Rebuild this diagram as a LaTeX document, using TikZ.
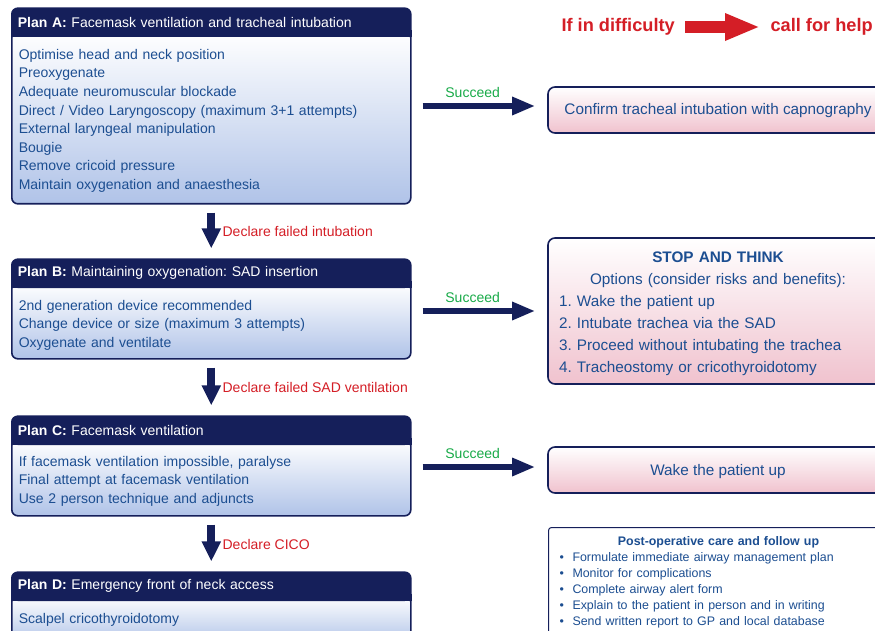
\documentclass[tikz,border=0pt]{standalone}
\usepackage{fontspec}
\setmainfont{Liberation Sans}
\usetikzlibrary{arrows.meta,positioning,calc}
\definecolor{navy}{RGB}{21,31,90}
\definecolor{bodyblue}{RGB}{28,78,145}
\definecolor{planblue}{RGB}{176,195,232}
\definecolor{rosy}{RGB}{240,194,206}
\definecolor{helpred}{RGB}{212,30,38}
\definecolor{okgreen}{RGB}{24,170,72}
\frenchspacing

\begin{document}
\begin{tikzpicture}[x=1pt,y=-1pt]

\tikzset{planbody/.style={anchor=north west,draw=navy,line width=1.6pt,rounded corners=6pt,top color=white,bottom color=planblue,text=bodyblue,text width=385pt,inner xsep=7pt,align=left,font=\fontsize{14}{18.6}\selectfont},
planhead/.style={anchor=south west,fill=navy,draw=navy,line width=1.6pt,rounded corners=6pt,text=white,text width=387pt,inner xsep=6pt,minimum height=28pt,align=left,font=\fontsize{14}{16}\selectfont},
resultbox/.style={draw=navy,line width=1.6pt,rounded corners=7pt,top color=white,bottom color=rosy,text=bodyblue,minimum width=340pt,font=\fontsize{15.3}{22}\selectfont},
postbox/.style={anchor=north west,draw=navy,line width=1pt,rounded corners=3pt,fill=white,text=bodyblue,text width=318pt,inner xsep=11pt,inner ysep=9pt,align=left,font=\fontsize{12.4}{16}\selectfont},
failarrow/.style={navy,line width=8pt,-{Triangle[length=20pt,width=18pt]},shorten <=8pt,shorten >=10pt},
failtext/.style={text=helpred,font=\fontsize{14}{16}\selectfont},
okarrow/.style={navy,line width=6pt,-{Triangle[length=23pt,width=17pt]},shorten <=11pt,shorten >=12pt},
oktext/.style={text=okgreen,font=\fontsize{14}{16}\selectfont},
helptext/.style={text=helpred,font=\fontsize{18.2}{20}\selectfont\bfseries},
helparrow/.style={helpred,line width=12pt,-{Triangle[length=35pt,width=25pt]},shorten <=7pt,shorten >=7pt}}

\useasboundingbox (0,0) rectangle (875,631);

% If in difficulty
\node[helptext,anchor=west] (diff) at (558,27) {If in difficulty};
\node[helptext,anchor=west] (help) at (767,27) {call for help};
\draw[helparrow] (diff) -- (help);

% Plan boxes
\node[planbody,minimum height=172pt] (bodyA) at (11,31) {\rule{0pt}{16pt}Optimise head and neck position\\ Preoxygenate\\ Adequate neuromuscular blockade\\ Direct / Video Laryngoscopy (maximum 3+1 attempts)\\ External laryngeal manipulation\\ Bougie\\ Remove cricoid pressure\\ Maintain oxygenation and anaesthesia};
\node[planhead] (headA) at ([yshift=-6pt]bodyA.north west) {\textbf{Plan A:} Facemask ventilation and tracheal intubation};

\node[planbody,minimum height=76pt] (bodyB) at (11,282) {\rule{0pt}{19pt}2nd generation device recommended\\ Change device or size (maximum 3 attempts)\\ Oxygenate and ventilate};
\node[planhead] (headB) at ([yshift=-6pt]bodyB.north west) {\textbf{Plan B:} Maintaining oxygenation: SAD insertion};

\node[planbody,minimum height=76pt] (bodyC) at (11,439) {\rule{0pt}{17pt}If facemask ventilation impossible, paralyse\\ Final attempt at facemask ventilation\\ Use 2 person technique and adjuncts};
\node[planhead] (headC) at ([yshift=-6pt]bodyC.north west) {\textbf{Plan C:} Facemask ventilation};

\node[planbody,minimum height=48pt] (bodyD) at (11,595) {Scalpel cricothyroidotomy};
\node[planhead] (headD) at ([yshift=-6pt]bodyD.north west) {\textbf{Plan D:} Emergency front of neck access};

\foreach \p in {A,B,C,D} \fill[navy] ([yshift=7pt]head\p.south west) rectangle (head\p.south east); % square off header

% Declare arrows
\draw[failarrow] (bodyA) -- (headB) node[failtext,midway,right=4pt] {Declare failed intubation};
\draw[failarrow] (bodyB) -- (headC) node[failtext,midway,right=4pt] {Declare failed SAD ventilation};
\draw[failarrow] (bodyC) -- (headD) node[failtext,midway,right=4pt] {Declare CICO};

% Outcome boxes
\node[resultbox,minimum height=46pt,text height=11pt,text depth=1pt] (confirm) at (718,110) {Confirm tracheal intubation with capnography};
\node[resultbox,minimum height=146pt,text width=318pt,align=left] (stop) at (718,311) {\rule{0pt}{17pt}\makebox[318pt][c]{\textbf{STOP AND THINK}}\\ \makebox[318pt][c]{Options (consider risks and benefits):}\\ 1.\ Wake the patient up\\ 2.\ Intubate trachea via the SAD\\ 3.\ Proceed without intubating the trachea\\ 4.\ Tracheostomy or cricothyroidotomy};
\node[resultbox,minimum height=46pt,text height=11pt,text depth=1pt] (wake) at (718,470) {Wake the patient up};

% Succeed arrows
\draw[okarrow] ([yshift=4pt]confirm.west -| bodyA.east) -- ([yshift=4pt]confirm.west) node[oktext,pos=.45,above=2pt] {Succeed};
\draw[okarrow] (stop.west -| bodyB.east) -- (stop.west) node[oktext,pos=.45,above=2pt] {Succeed};
\draw[okarrow] ([yshift=3pt]wake.west -| bodyC.east) -- ([yshift=3pt]wake.west) node[oktext,pos=.45,above=2pt] {Succeed};

% Post-operative care
\node[postbox] (postop) at (548,527) {\makebox[318pt][c]{\textbf{Post-operative care and follow up}}\\ \makebox[13pt][l]{\textbullet}Formulate immediate airway management plan\\ \makebox[13pt][l]{\textbullet}Monitor for complications\\ \makebox[13pt][l]{\textbullet}Complete airway alert form\\ \makebox[13pt][l]{\textbullet}Explain to the patient in person and in writing\\ \makebox[13pt][l]{\textbullet}Send written report to GP and local database};

\end{tikzpicture}
\end{document}
